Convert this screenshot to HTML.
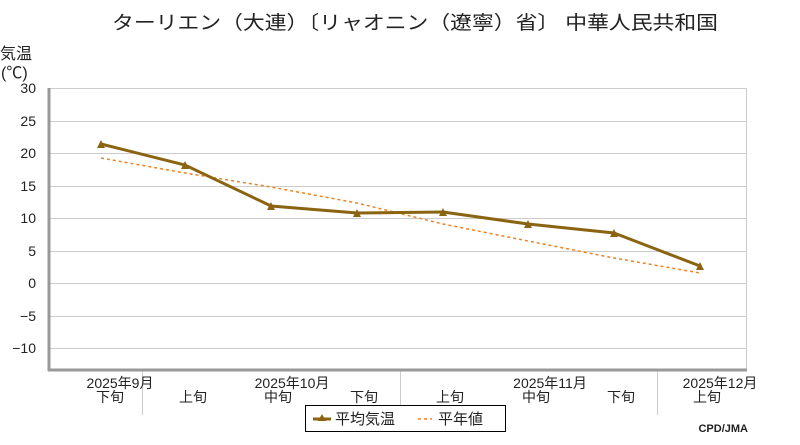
<!DOCTYPE html>
<html><head><meta charset="utf-8"><style>
body{margin:0;background:#fff;}
svg text{font-family:"Liberation Sans","Noto Sans CJK JP",sans-serif;fill:#222;}
</style></head><body>
<svg width="800" height="440" viewBox="0 0 800 440" xmlns="http://www.w3.org/2000/svg">
<text x="112" y="29" font-size="19" textLength="606" lengthAdjust="spacingAndGlyphs">ターリエン（大連）〔リャオニン（遼寧）省〕 中華人民共和国</text>
<text x="0" y="59" font-size="16">気温</text>
<text x="1" y="78" font-size="16">(℃)</text>
<g stroke="#ccc" stroke-width="1">
<line x1="49" y1="88.5" x2="746" y2="88.5"/><line x1="49" y1="121.5" x2="746" y2="121.5"/>
<line x1="49" y1="153.5" x2="746" y2="153.5"/><line x1="49" y1="186.5" x2="746" y2="186.5"/>
<line x1="49" y1="218.5" x2="746" y2="218.5"/><line x1="49" y1="251.5" x2="746" y2="251.5"/>
<line x1="49" y1="283.5" x2="746" y2="283.5"/><line x1="49" y1="316.5" x2="746" y2="316.5"/>
<line x1="49" y1="348.5" x2="746" y2="348.5"/>
<line x1="746.5" y1="88" x2="746.5" y2="370"/>
<line x1="142.5" y1="371" x2="142.5" y2="415"/><line x1="400.5" y1="371" x2="400.5" y2="415"/><line x1="657.5" y1="371" x2="657.5" y2="415"/>
</g>
<line x1="49" y1="88" x2="49" y2="371" stroke="#999" stroke-width="3"/>
<line x1="48" y1="370" x2="747" y2="370" stroke="#999" stroke-width="3"/>
<g font-size="14" text-anchor="end">
<text x="36" y="93">30</text><text x="36" y="126">25</text><text x="36" y="158">20</text>
<text x="36" y="191">15</text><text x="36" y="223">10</text><text x="36" y="256">5</text>
<text x="36" y="288">0</text><text x="36" y="321">−5</text><text x="36" y="353">−10</text>
</g>
<polyline points="101,158 185,173 271,187 357,203 443,224 528,241 614,258 700,273" fill="none" stroke="#f08020" stroke-width="1.5" stroke-dasharray="3,3"/>
<polyline points="101,144 185,165 271,206 357,213 443,212 528,224 614,233 700,266" fill="none" stroke="#8a6410" stroke-width="3"/>
<g fill="#8a6410">
<polygon points="101,140 97,148 105,148"/><polygon points="185,161 181,169 189,169"/>
<polygon points="271,202 267,210 275,210"/><polygon points="357,209 353,217 361,217"/>
<polygon points="443,208 439,216 447,216"/><polygon points="528,220 524,228 532,228"/>
<polygon points="614,229 610,237 618,237"/><polygon points="700,262 696,270 704,270"/>
</g>
<g font-size="14" text-anchor="middle">
<text x="120" y="388">2025年9月</text><text x="292" y="388">2025年10月</text>
<text x="550" y="388">2025年11月</text><text x="720" y="388">2025年12月</text>
<text x="110" y="402">下旬</text><text x="193" y="402">上旬</text><text x="278" y="402">中旬</text>
<text x="364" y="402">下旬</text><text x="450" y="402">上旬</text><text x="536" y="402">中旬</text>
<text x="621" y="402">下旬</text><text x="707" y="402">上旬</text>
</g>
<rect x="305.5" y="405.5" width="200" height="26" fill="#fff" stroke="#000"/>
<line x1="313" y1="419" x2="331" y2="419" stroke="#8a6410" stroke-width="3"/>
<polygon points="322,414 318,421 326,421" fill="#8a6410"/>
<text x="335" y="424" font-size="15">平均気温</text>
<line x1="418" y1="419" x2="432" y2="419" stroke="#f08020" stroke-width="1.5" stroke-dasharray="3,3"/>
<text x="438" y="424" font-size="15">平年値</text>
<text x="748" y="432" font-size="11" text-anchor="end" font-family="Liberation Mono, monospace" font-weight="bold">CPD/JMA</text>
</svg>
</body></html>
